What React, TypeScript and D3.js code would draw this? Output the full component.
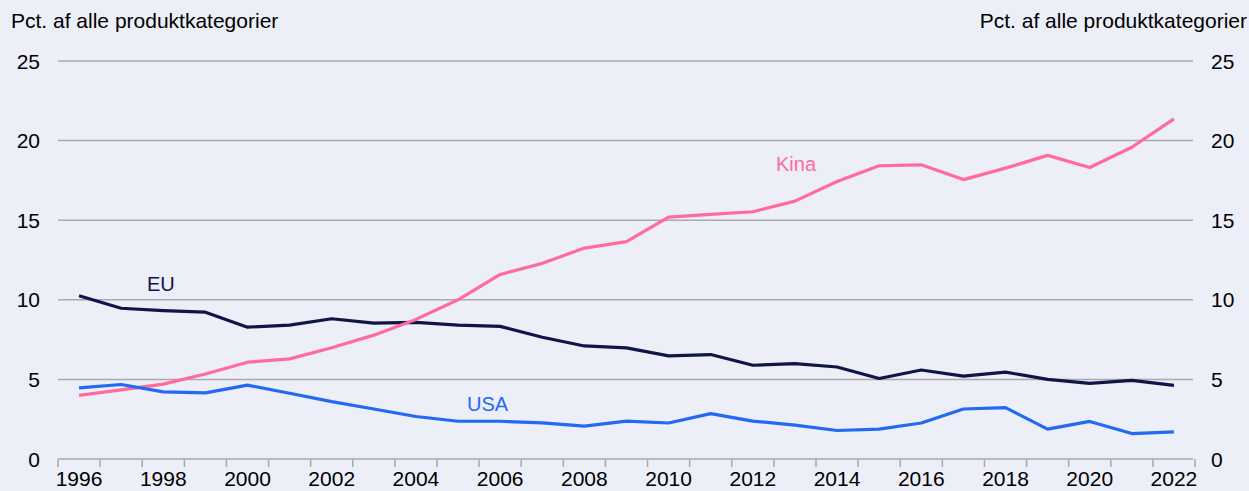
import React from "react";
import * as d3 from "d3";

const years: number[] = d3.range(1996, 2023);
const eu: number[] = [10.25, 9.47, 9.32, 9.22, 8.28, 8.41, 8.81, 8.54, 8.58, 8.41, 8.33, 7.65, 7.1, 6.98, 6.48, 6.56, 5.89, 5.99, 5.78, 5.06, 5.59, 5.21, 5.46, 5.0, 4.75, 4.94, 4.62];
const kina: number[] = [4.0, 4.34, 4.7, 5.34, 6.08, 6.29, 6.99, 7.78, 8.77, 10.0, 11.59, 12.29, 13.25, 13.65, 15.19, 15.36, 15.53, 16.2, 17.43, 18.42, 18.48, 17.55, 18.27, 19.07, 18.31, 19.58, 21.36];
const usa: number[] = [4.47, 4.68, 4.22, 4.15, 4.64, 4.13, 3.6, 3.14, 2.67, 2.37, 2.37, 2.27, 2.06, 2.38, 2.26, 2.85, 2.38, 2.13, 1.79, 1.88, 2.26, 3.14, 3.23, 1.88, 2.36, 1.6, 1.71];
const yTicks: number[] = [0, 5, 10, 15, 20, 25];
const xTickLabels: number[] = years.filter((y) => y % 2 === 0);
const axisTitle = "Pct. af alle produktkategorier";

const W = 1249;
const H = 491;
const FONT = "Arial, 'Liberation Sans', Helvetica, sans-serif";

export default function App() {
  const x = d3.scaleBand<number>().domain(years).range([58, 1195]);
  const y = d3.scaleLinear().domain([0, 25]).range([459, 61]);
  const cx = (yr: number) => (x(yr) as number) + x.bandwidth() / 2;
  const line = (vals: number[]) =>
    d3.line<number>().x((_, i) => cx(years[i])).y((v) => y(v))(vals) as string;

  const series = [
    { name: "EU", vals: eu, color: "#0F1548", lx: 147, ly: 291 },
    { name: "Kina", vals: kina, color: "#FF6B9C", lx: 776, ly: 171 },
    { name: "USA", vals: usa, color: "#2369F2", lx: 467, ly: 411 },
  ];

  return (
    <svg
      width={W}
      height={H}
      style={{ position: "absolute", left: 0, top: 0, display: "block", background: "#ECEEF8", fontFamily: FONT }}
    >
      <rect x={0} y={0} width={W} height={H} fill="#ECEEF8" />
      <text x={11} y={28} fontSize={21} fill="#000">{axisTitle}</text>
      <text x={1247} y={28} fontSize={21} fill="#000" textAnchor="end">{axisTitle}</text>
      {yTicks.map((t) => (
        <g key={t}>
          <line x1={58} x2={1193} y1={y(t)} y2={y(t)} stroke="#A9A9AE" strokeWidth={1.5} />
          <text x={40} y={y(t) + 7.5} fontSize={21} textAnchor="end" fill="#000">{t}</text>
          <text x={1211} y={y(t) + 7.5} fontSize={21} fill="#000">{t}</text>
        </g>
      ))}
      {years.concat([2023]).map((yr, i) => {
        const px = i < years.length ? (x(yr) as number) : 1195;
        return <line key={"t" + yr} x1={px} x2={px} y1={459} y2={467} stroke="#A9A9AE" strokeWidth={1.5} />;
      })}
      {xTickLabels.map((yr) => (
        <text key={"l" + yr} x={cx(yr)} y={486} fontSize={21} textAnchor="middle" fill="#000">{yr}</text>
      ))}
      {series.map((s) => (
        <path key={s.name} d={line(s.vals)} fill="none" stroke={s.color} strokeWidth={3.2} strokeLinejoin="round" />
      ))}
      {series.map((s) => (
        <text key={"n" + s.name} x={s.lx} y={s.ly} fontSize={20} fill={s.color}>{s.name}</text>
      ))}
    </svg>
  );
}
